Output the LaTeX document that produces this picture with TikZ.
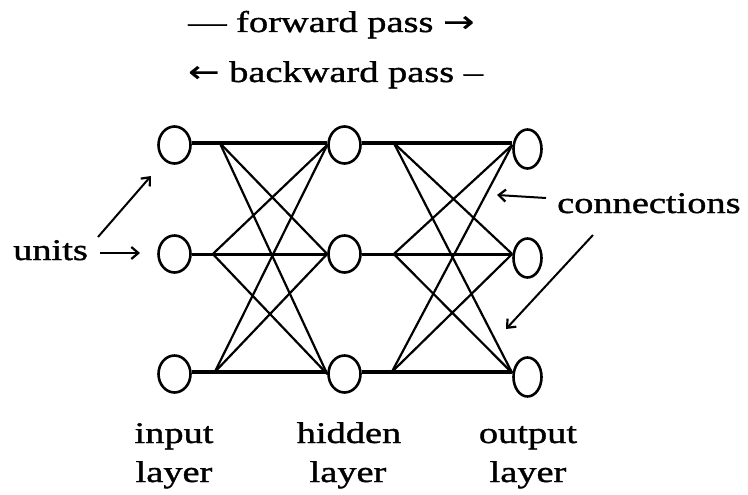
\documentclass[tikz,border=0pt]{standalone}
\usepackage{fontspec}
\setmainfont[FakeStretch=1.28,FakeBold=1.2]{Liberation Serif}
\newfontfamily\symf[FakeStretch=1.25,FakeBold=0.5]{DejaVu Sans}
\usetikzlibrary{arrows.meta,shapes.geometric}
\begin{document}
\begin{tikzpicture}[x=1pt,y=-1pt,
  unitin/.style={ellipse, draw, line width=2.6pt, minimum width=32pt, minimum height=37pt, inner sep=0pt},
  unitout/.style={unitin, minimum width=28pt, minimum height=39pt},
  lbl/.style={font=\fontsize{30}{36}\selectfont, inner sep=0pt},
  hline/.style={line width=3.2pt},
  mline/.style={line width=3pt},
  conn/.style={line width=2.2pt},
  pointer/.style={line width=2pt, -{Straight Barb[length=7pt,width=12pt,line width=2.2pt]}}]
\fill[white] (0,0) rectangle (748,495);
\useasboundingbox (0,0) rectangle (748,495);

% units
\node[unitin] (i1) at (174.5,145) {};
\node[unitin] (i2) at (174.5,254) {};
\node[unitin] (i3) at (174.5,374) {};
\node[unitin] (h1) at (344.5,145) {};
\node[unitin] (h2) at (344.5,254) {};
\node[unitin] (h3) at (344.5,374) {};
\node[unitout] (o1) at (527.5,149) {};
\node[unitout] (o2) at (527.5,258) {};
\node[unitout] (o3) at (527.5,377) {};

% fan-out points
\coordinate (fi1) at ([xshift=28pt,yshift=2pt]i1.east);
\coordinate (fi2) at ([xshift=21pt]i2.east);
\coordinate (fi3) at ([xshift=23pt,yshift=2pt]i3.east);
\coordinate (fh1) at ([xshift=32pt,yshift=2pt]h1.east);
\coordinate (fh2) at ([xshift=32pt]h2.east);
\coordinate (fh3) at ([xshift=30pt,yshift=2pt]h3.east);

% horizontal connections
\draw[hline] ([yshift=2pt]i1.east) -- ([yshift=2pt]h1.west);
\draw[mline] (i2.east) -- (h2.west);
\draw[hline] ([yshift=2pt]i3.east) -- ([yshift=2pt]h3.west);
\draw[hline] ([yshift=2pt]h1.east) -- ([yshift=2pt]h1.east -| o1.west);
\draw[mline] (h2.east) -- (h2.east -| o2.west);
\draw[hline] ([yshift=2pt]h3.east) -- ([yshift=2pt]h3.east -| o3.west);

% diagonal connections input -> hidden
\draw[conn] (fi1) -- (h2.west);
\draw[conn] (fi1) -- (h3.west);
\draw[conn] (fi2) -- (h1.west);
\draw[conn] (fi2) -- (h3.west);
\draw[conn] (fi3) -- (h1.west);
\draw[conn] (fi3) -- (h2.west);
% diagonal connections hidden -> output
\draw[conn] (fh1) -- ([yshift=4pt]o2.west);
\draw[conn] (fh1) -- ([yshift=4pt]o3.west);
\draw[conn] (fh2) -- ([yshift=4pt]o1.west);
\draw[conn] (fh2) -- ([yshift=4pt]o3.west);
\draw[conn] (fh3) -- ([yshift=4pt]o1.west);
\draw[conn] (fh3) -- ([yshift=4pt]o2.west);

% top texts
\node[lbl, anchor=base west] (fwd) at (188,32) {— forward pass {\symf →}};
\node[lbl, anchor=base west] (bwd) at (188,82) {{\symf ←} backward pass –};

% units label
\node[lbl, anchor=base west] (units) at (13,260) {units};
\coordinate (ua) at (100,253);
\coordinate (ub) at (140,253);
\draw[pointer] (ua) -- (ub);
\coordinate (uc) at (98,237);
\coordinate (ud) at (151,176);
\draw[pointer] (uc) -- (ud);

% connections label
\node[lbl, anchor=base west] (conns) at (557,213) {connections};
\coordinate (ca) at (546,198);
\coordinate (cb) at (497,195);
\draw[pointer] (ca) -- (cb);
\coordinate (cc) at (593,235);
\coordinate (cd) at (506,329);
\draw[pointer] (cc) -- (cd);

% layer labels
\node[lbl, anchor=base] (in1) at (174,443) {input};
\node[lbl, anchor=base] (in2) at (174,482) {layer};
\node[lbl, anchor=base] (hd1) at (349,443) {hidden};
\node[lbl, anchor=base] (hd2) at (348,482) {layer};
\node[lbl, anchor=base] (ou1) at (528,443) {output};
\node[lbl, anchor=base] (ou2) at (528,482) {layer};
\end{tikzpicture}
\end{document}
